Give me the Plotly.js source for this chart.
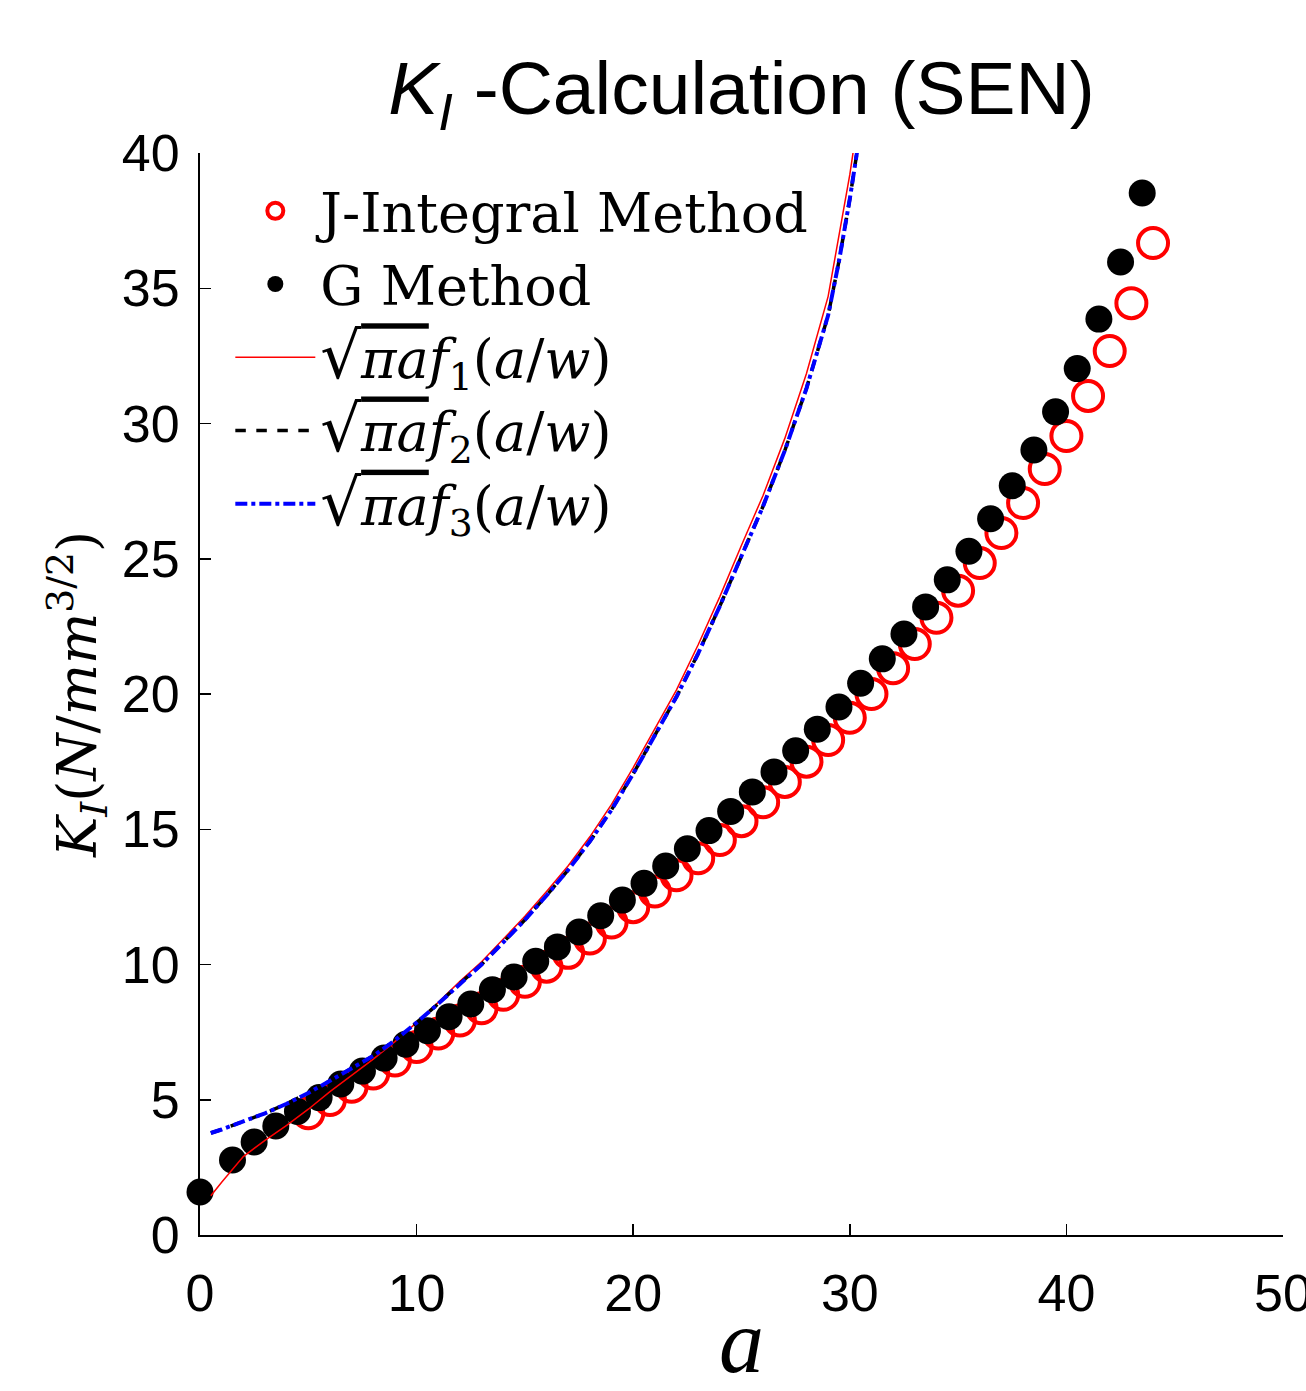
<!DOCTYPE html>
<html>
<head>
<meta charset="utf-8">
<script src="https://cdn.plot.ly/plotly-3.0.1.min.js"></script>
<style>
  html, body { margin: 0; padding: 0; background: #fff; }
  #chart { width: 1306px; height: 1391px; }
</style>
</head>
<body>
<div id="chart"></div>
<script>
// ---- data ----
const aJ = [5,6,7,8,9,10,11,12,13,14,15,16,17,18,19,20,21,22,23,24,25,26,27,28,29,30,31,32,33,34,35,36,37,38,39,40,41,42,43,44];
const kJ = [4.50,4.99,5.48,5.97,6.45,6.95,7.45,7.93,8.38,8.88,9.36,9.92,10.43,10.96,11.55,12.12,12.70,13.30,13.93,14.60,15.30,16.00,16.75,17.50,18.30,19.12,20.00,20.95,21.85,22.82,23.82,24.84,25.95,27.06,28.32,29.54,31.02,32.68,34.45,36.67];

const aG = [0,1.5,2.5,3.5,4.5,5.5,6.5,7.5,8.5,9.5,10.5,11.5,12.5,13.5,14.5,15.5,16.5,17.5,18.5,19.5,20.5,21.5,22.5,23.5,24.5,25.5,26.5,27.5,28.5,29.5,30.5,31.5,32.5,33.5,34.5,35.5,36.5,37.5,38.5,39.5,40.5,41.5,42.5,43.5];
const kG = [1.59,2.77,3.44,4.03,4.57,5.08,5.58,6.06,6.54,7.05,7.55,8.07,8.54,9.07,9.54,10.12,10.65,11.20,11.80,12.38,13.00,13.64,14.28,14.95,15.66,16.38,17.12,17.90,18.70,19.52,20.40,21.30,22.22,23.22,24.22,25.28,26.48,27.70,29.02,30.43,32.03,33.86,35.97,38.52];

const aCurve = [0.5,1,2,3,4,5,6,7,8,9,10,11,12,13,14,15,16,17,18,19,20,21,22,23,24,25,26,27,28,29,29.5,30,30.5];
const kF1 = [1.45,1.95,2.90,3.50,4.05,4.65,5.30,5.90,6.50,7.15,7.85,8.60,9.38,10.10,10.92,11.78,12.70,13.65,14.72,15.92,17.28,18.72,20.15,21.82,23.60,25.50,27.35,29.45,31.85,34.70,36.90,39.20,41.90];
const kF2 = [3.77,3.90,4.20,4.50,4.85,5.25,5.70,6.15,6.62,7.20,7.85,8.55,9.30,10.00,10.82,11.65,12.55,13.50,14.55,15.72,17.05,18.45,19.90,21.50,23.25,25.10,26.95,29.00,31.30,34.00,36.00,38.30,40.90];
const kF3 = [3.77,3.90,4.20,4.50,4.85,5.25,5.70,6.15,6.62,7.20,7.85,8.55,9.30,10.00,10.82,11.65,12.55,13.50,14.55,15.72,17.05,18.45,19.90,21.50,23.25,25.10,26.95,29.00,31.30,34.00,36.00,38.30,40.90];

const xTicks = [0,10,20,30,40,50];
const yTicks = [0,5,10,15,20,25,30,35,40];

const sq = '<span style="font-size:64px">√</span><span style="text-decoration:overline"><i>πa</i></span>';
const names = [
  'J-Integral Method',
  'G Method',
  sq + '<i>f</i><sub>1</sub>(<i>a</i>/<i>w</i>)',
  sq + '<i>f</i><sub>2</sub>(<i>a</i>/<i>w</i>)',
  sq + '<i>f</i><sub>3</sub>(<i>a</i>/<i>w</i>)'
];

const traces = [
  {x: aJ, y: kJ, name: names[0], type: 'scatter', mode: 'markers', cliponaxis: false,
   marker: {symbol: 'circle-open', size: 30, color: '#ff0000', line: {width: 4, color: '#ff0000'}}},
  {x: aG, y: kG, name: names[1], type: 'scatter', mode: 'markers', cliponaxis: false,
   marker: {symbol: 'circle', size: 27, color: '#000000'}},
  {x: aCurve, y: kF1, name: names[2], type: 'scatter', mode: 'lines', line: {color: '#ff0000', width: 1.5}},
  {x: aCurve, y: kF2, name: names[3], type: 'scatter', mode: 'lines', line: {color: '#000000', width: 3.5, dash: 'dash'}},
  {x: aCurve, y: kF3, name: names[4], type: 'scatter', mode: 'lines', line: {color: '#0000ff', width: 4, dash: 'dashdot'}}
];

const axisFont = {family: 'Liberation Sans, Arial, sans-serif', size: 52, color: '#000'};
const serif = 'DejaVu Serif, Liberation Serif, serif';

const layout = {
  width: 1306, height: 1391,
  margin: {l: 200, r: 23, t: 153, b: 156},
  paper_bgcolor: '#fff', plot_bgcolor: '#fff',
  showlegend: true,
  title: {
    text: '<i>K</i><sub><i>I</i></sub> -Calculation (SEN)',
    font: {family: 'Liberation Sans, Arial, sans-serif', size: 75, color: '#000'},
    x: 0.5, xref: 'paper', xanchor: 'center',
    y: 0.937, yref: 'container', yanchor: 'middle'
  },
  xaxis: {
    range: [0, 50], tickvals: xTicks, ticktext: xTicks.map(String),
    showline: true, linecolor: '#000', linewidth: 2, mirror: false,
    ticks: 'inside', ticklen: 11, tickwidth: 1.5, tickcolor: '#000',
    showgrid: false, zeroline: false, tickfont: axisFont, ticklabelstandoff: 12,
    ticklabeloverflow: 'allow',
    title: {text: '<i>a</i>\u00a0\u00a0', font: {family: 'Liberation Serif, Times New Roman, serif', size: 90, color: '#000'}, standoff: 0}
  },
  yaxis: {
    range: [0, 40], tickvals: yTicks, ticktext: yTicks.map(String),
    showline: true, linecolor: '#000', linewidth: 2, mirror: false,
    ticks: 'inside', ticklen: 11, tickwidth: 1.5, tickcolor: '#000',
    showgrid: false, zeroline: false, tickfont: axisFont, ticklabelstandoff: 8,
    ticklabeloverflow: 'allow',
    title: {text: '<i>K<sub>I</sub></i>(<i>N</i>/<i>mm</i><sup>3/2</sup>)', font: {family: serif, size: 54, color: '#000'}, standoff: 8}
  },
  legend: {
    x: 0.028, y: 0.985, xanchor: 'left', yanchor: 'top',
    bgcolor: 'rgba(255,255,255,0)', borderwidth: 0,
    itemwidth: 80,
    font: {family: serif, size: 54, color: '#000'}
  }
};

Plotly.newPlot('chart', traces, layout, {displayModeBar: false, staticPlot: true});
</script>
</body>
</html>
